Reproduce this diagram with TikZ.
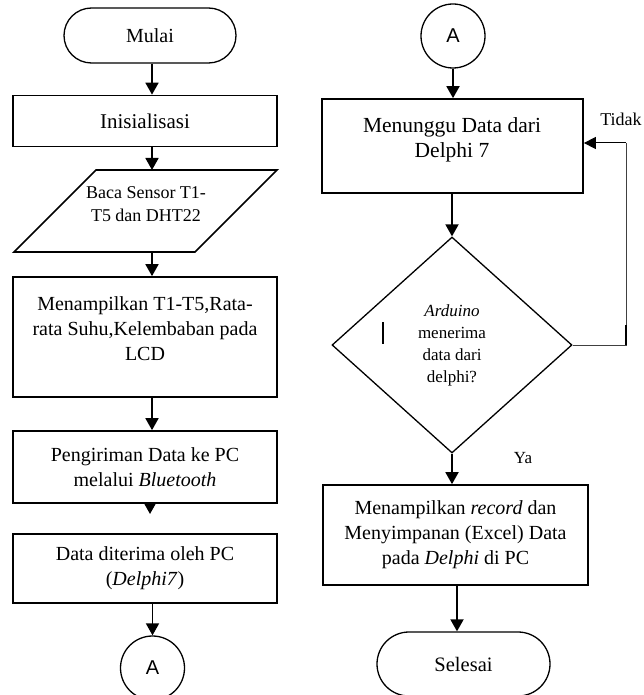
\documentclass[tikz,border=0pt]{standalone}
\usepackage{fontspec}
\setmainfont{Liberation Serif}
\newfontfamily\sansA{Liberation Sans}
\usetikzlibrary{arrows.meta,shapes.geometric,calc}
\begin{document}
\begin{tikzpicture}[x=1pt,y=-1pt,
  box/.style={draw, line width=1.7pt, inner sep=0pt},
  term/.style={draw, line width=1.3pt, rounded corners=27.5pt, inner sep=0pt},
  conn/.style={draw, circle, line width=1.3pt, inner sep=0pt, minimum size=64pt, font=\sansA\fontsize{20}{22}\selectfont},
  txt/.style={align=center, inner sep=0pt, font=\fontsize{20}{25}\selectfont},
  diam/.style={draw, diamond, line width=1.3pt, inner sep=0pt, align=center, font=\fontsize{17}{22}\selectfont},
  lbl/.style={inner sep=0pt, font=\fontsize{18}{20}\selectfont},
  arr/.style={line width=1.8pt, -{Triangle[length=12pt,width=13pt]}},
  loopl/.style={line width=1pt, draw=black!75}]
\useasboundingbox (0,0) rectangle (644,695);
\clip (0,0) rectangle (644,695);
\coordinate (xL) at (152,0);
\coordinate (xR) at (457,0);
% ---------- left column ----------
\node[term, txt, minimum width=172pt, minimum height=55pt] (mulai) at (150,35.5) {Mulai};
\node[box, txt, font=\fontsize{21}{25}\selectfont, minimum width=264pt, minimum height=51pt] (init) at (145,121) {Inisialisasi};
\coordinate (p1) at (96,170);
\coordinate (p2) at (277,170);
\coordinate (p3) at (195,252);
\coordinate (p4) at (14,252);
\draw[box] (p1) -- (p2) -- (p3) -- (p4) -- cycle;
\node[txt, font=\fontsize{18}{23}\selectfont] (baca) at (146,204) {Baca Sensor T1-\\T5 dan DHT22};
\node[box, minimum width=264pt, minimum height=120pt] (tampil) at (145,337) {};
\node[txt] (tampilT) at (145,328.5) {Menampilkan T1-T5,Rata-\\rata Suhu,Kelembaban pada\\LCD};
\node[box, txt, minimum width=264pt, minimum height=72pt] (kirim) at (145,467) {Pengiriman Data ke PC\\melalui \textit{Bluetooth}};
\node[box, txt, minimum width=264pt, minimum height=69pt] (terima) at (145,568.5) {Data diterima oleh PC\\(\textit{Delphi7})};
\node[conn] (A1) at (152.5,668) {A};
\coordinate (kt) at (150,514);
\draw[arr] (mulai.south -| xL) -- (init.north -| xL);
\draw[arr] (init.south -| xL) -- (p1 -| xL);
\draw[arr] (p4 -| xL) -- (tampil.north -| xL);
\draw[arr] (tampil.south -| xL) -- (kirim.north -| xL);
\draw[arr] (kirim.south -| kt) -- (kt);
\draw[arr] (terima.south -| A1) -- (A1.north);
% ---------- right column ----------
\node[conn] (A2) at (453,36) {A};
\node[box, minimum width=261pt, minimum height=94pt] (wait) at (452.5,146) {};
\node[txt, font=\fontsize{21.5}{25}\selectfont] (waitT) at (452,139.5) {Menunggu Data dari\\Delphi 7};
\node[diam, minimum width=240pt, minimum height=216pt] (dec) at (452,345) {\textit{Arduino}\\menerima\\data dari\\delphi?};
\node[box, txt, minimum width=265pt, minimum height=100pt] (rec) at (455.5,535) {Menampilkan \textit{record} dan\\Menyimpanan (Excel) Data\\pada \textit{Delphi} di PC};
\node[term, txt, font=\fontsize{20.5}{25}\selectfont, rounded corners=32pt, minimum width=173pt, minimum height=64pt] (sel) at (463.5,664) {Selesai};
\draw[arr] (A2.south) -- (A2.south |- wait.north);
\draw[arr] (wait.south -| dec.north) -- (dec.north);
\draw[arr] (dec.south) -- (dec.south |- rec.north);
\draw[arr] (rec.south -| xR) -- (sel.north -| xR);
% loop back
\coordinate (lb) at (626,345);
\coordinate (lm) at (626,325);
\coordinate (lt) at (626,143);
\draw[loopl] (dec.east) -- (lb) -- (lt);
\draw[line width=2pt] (lm) -- (lb);
\draw[loopl, draw=black, -{Triangle[length=12pt,width=12pt]}] (lt) -- (lt -| wait.east);
\node[lbl] (tidak) at (621,119) {Tidak};
\node[lbl, font=\fontsize{17}{20}\selectfont] (ya) at (523,458) {Ya};
% stray cursor mark
\coordinate (c1) at (383,322);
\coordinate (c2) at (383,344);
\draw[line width=1.6pt] (c1) -- (c2);
\end{tikzpicture}
\end{document}
